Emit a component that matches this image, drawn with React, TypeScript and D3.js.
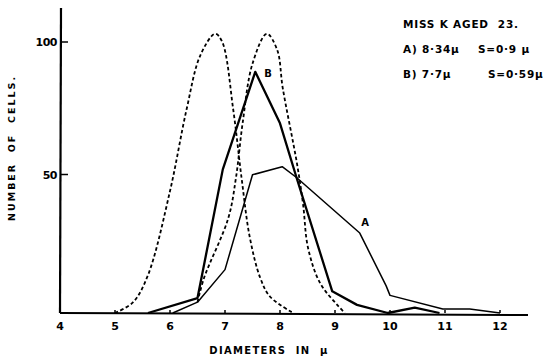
import React from "react";
import * as d3 from "d3";

const xTicks = [4, 5, 6, 7, 8, 9, 10, 11, 12];
const xTickLabels = ["4", "5", "6", "7", "8", "9", "10", "11", "12"];
const yTicks = [50, 100];
const yTickLabels = ["50", "100"];

const curveA: [number, number][] = [
  [6.05, 0], [6.5, 4], [7.0, 16], [7.5, 51], [8.04, 54], [8.3, 50],
  [9.45, 29.5], [9.93, 10], [10.0, 6.5], [10.96, 1.5], [11.45, 1.5], [12.0, 0],
];
const curveB: [number, number][] = [
  [5.6, 0], [6.5, 5.5], [6.96, 53], [7.55, 89], [8.0, 70], [8.3, 50],
  [8.95, 8], [9.4, 3], [9.96, 0], [10.45, 2], [10.9, 0],
];
const dashedLeft: [number, number][] = [
  [5.0, 0], [5.33, 4], [5.6, 14], [6.0, 45], [6.3, 75], [6.55, 95],
  [6.82, 103], [6.95, 100], [7.15, 75], [7.3, 50], [7.45, 28], [7.64, 13],
  [7.82, 6], [8.24, 0],
];
const dashedRight: [number, number][] = [
  [6.5, 4], [6.62, 13], [7.06, 35], [7.2, 50], [7.32, 70], [7.5, 92],
  [7.76, 103], [7.95, 97], [8.05, 83], [8.31, 55], [8.42, 40], [8.51, 24],
  [8.73, 11], [9.04, 3], [9.18, 0],
];

const MU = "\u03BC";
const titleHead = "MISS K AGED  23.";
const legendMeans = [`A) 8·34${MU}`, `B) 7·7${MU}`];
const legendSDs = [`S=0·9 ${MU}`, `S=0·59${MU}`];

export default function App() {
  const W = 543, H = 359;
  const x = d3.scaleLinear().domain([4, 12]).range([60, 500]);
  const y = d3.scaleLinear().domain([0, 100]).range([313, 42]);
  const lin = d3.line<[number, number]>().x(d => x(d[0])).y(d => y(d[1]));
  const smooth = d3.line<[number, number]>().x(d => x(d[0])).y(d => y(d[1])).curve(d3.curveCatmullRom.alpha(0.5));
  const font = "'DejaVu Sans', sans-serif";
  const sdX = [478, 488];

  return (
    <svg width={W} height={H} style={{ position: "absolute", left: 0, top: 0, background: "#fff" }}>
      <rect x={0} y={0} width={W} height={H} fill="#fff" />
      {/* axes */}
      <line x1={61} y1={8} x2={60} y2={y(0)} stroke="#000" strokeWidth={2.2} />
      <line x1={60} y1={y(0)} x2={528} y2={y(0) + 2} stroke="#000" strokeWidth={2} />
      {yTicks.map((t, i) => (
        <g key={"yt" + i}>
          <line x1={61} x2={68} y1={y(t) + (t === 100 ? 0 : -3)} y2={y(t) + (t === 100 ? 0 : -3)} stroke="#000" strokeWidth={1.5} />
          <text x={57} y={y(t) + (t === 100 ? 4 : 1)} textAnchor="end" fontFamily={font} fontWeight="bold" fontSize={11} letterSpacing={-0.5}>
            {yTickLabels[i]}
          </text>
        </g>
      ))}
      {xTicks.map((t, i) => (
        <g key={"xt" + i}>
          <line x1={x(t)} x2={x(t)} y1={y(0) - 3} y2={y(0)} stroke="#000" strokeWidth={1.5} />
          <text x={x(t)} y={y(0) + 17} textAnchor="middle" fontFamily={font} fontWeight="bold" fontSize={11}>
            {xTickLabels[i]}
          </text>
        </g>
      ))}
      <text x={269} y={354} textAnchor="middle" fontFamily={font} fontWeight="bold" fontSize={10} letterSpacing={1.3} style={{ whiteSpace: "pre" }}>
        {`DIAMETERS  IN  ${MU}`}
      </text>
      <text transform="translate(15,148) rotate(-90)" textAnchor="middle" fontFamily={font} fontWeight="bold" fontSize={9.5} letterSpacing={2} style={{ whiteSpace: "pre" }}>
        NUMBER  OF  CELLS.
      </text>
      {/* dashed curves */}
      <path d={smooth(dashedLeft) || ""} fill="none" stroke="#000" strokeWidth={1.8} strokeDasharray="3.5,2.5" />
      <path d={smooth(dashedRight) || ""} fill="none" stroke="#000" strokeWidth={1.8} strokeDasharray="3.5,2.5" />
      {/* solid curves */}
      <path d={lin(curveA) || ""} fill="none" stroke="#000" strokeWidth={1.5} strokeLinejoin="round" />
      <path d={lin(curveB) || ""} fill="none" stroke="#000" strokeWidth={2.3} strokeLinejoin="round" />
      <text x={268} y={77} textAnchor="middle" fontFamily={font} fontWeight="bold" fontSize={10}>B</text>
      <text x={365} y={226} textAnchor="middle" fontFamily={font} fontWeight="bold" fontSize={10}>A</text>
      <text x={403} y={28} fontFamily={font} fontWeight="bold" fontSize={10.5} letterSpacing={0.8} style={{ whiteSpace: "pre" }}>
        {titleHead}
      </text>
      {legendMeans.map((s, i) => (
        <g key={"lg" + i}>
          <text x={403} y={53 + i * 25} fontFamily={font} fontWeight="bold" fontSize={10.5} letterSpacing={0.8} style={{ whiteSpace: "pre" }}>
            {s}
          </text>
          <text x={sdX[i]} y={53 + i * 25} fontFamily={font} fontWeight="bold" fontSize={10.5} letterSpacing={0.8} style={{ whiteSpace: "pre" }}>
            {legendSDs[i]}
          </text>
        </g>
      ))}
    </svg>
  );
}
